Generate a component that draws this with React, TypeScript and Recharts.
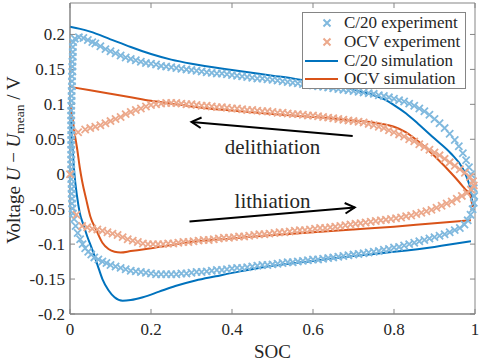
import {
  ComposedChart,
  Line,
  ReferenceArea,
  ReferenceDot,
  ReferenceLine,
  Scatter,
  XAxis,
  YAxis,
} from "recharts";

type Pt = [number, number];

const xTicks = [0, 0.2, 0.4, 0.6, 0.8, 1];
const yTicks = [-0.2, -0.15, -0.1, -0.05, 0, 0.05, 0.1, 0.15, 0.2];
const yTop = 0.245;

// C/20 experiment (SOC, U - Umean)
const c20ExpLeft: Pt[] = [
  [0.008, 0.189], [0.007, 0.182], [0.007, 0.175], [0.007, 0.168], [0.006, 0.161], [0.006, 0.154],
  [0.006, 0.147], [0.005, 0.14], [0.005, 0.133], [0.005, 0.126], [0.004, 0.119], [0.004, 0.112],
  [0.004, 0.105], [0.003, 0.098], [0.003, 0.091], [0.003, 0.084], [0.003, 0.077], [0.003, 0.07],
  [0.003, 0.063], [0.003, 0.056], [0.003, 0.049], [0.003, 0.042], [0.003, 0.035], [0.003, 0.028],
  [0.003, 0.021], [0.003, 0.014], [0.003, 0.007], [0.003, 0.0], [0.003, -0.007], [0.004, -0.014],
  [0.004, -0.021], [0.004, -0.028], [0.005, -0.035], [0.005, -0.042], [0.006, -0.049], [0.007, -0.056],
];
const c20ExpLower: Pt[] = [
  [0.01, -0.064], [0.014, -0.074], [0.019, -0.084], [0.025, -0.093], [0.031, -0.1], [0.0375, -0.106],
  [0.045, -0.111], [0.0525, -0.115], [0.06, -0.119], [0.07, -0.122], [0.08, -0.125], [0.09, -0.127],
  [0.1, -0.13], [0.1125, -0.132], [0.125, -0.134], [0.1375, -0.136], [0.15, -0.138], [0.1625, -0.139],
  [0.175, -0.14], [0.1875, -0.141], [0.2, -0.142], [0.2125, -0.143], [0.225, -0.143], [0.2375, -0.143],
  [0.25, -0.143], [0.2625, -0.143], [0.275, -0.142], [0.2875, -0.142], [0.3, -0.141], [0.3125, -0.14],
  [0.325, -0.14], [0.3375, -0.139], [0.35, -0.138], [0.3625, -0.137], [0.375, -0.137], [0.3875, -0.136],
  [0.4, -0.135], [0.4125, -0.134], [0.425, -0.134], [0.4375, -0.133], [0.45, -0.132], [0.4625, -0.131],
  [0.475, -0.13], [0.4875, -0.13], [0.5, -0.129], [0.5125, -0.128], [0.525, -0.127], [0.5375, -0.126],
  [0.55, -0.126], [0.5625, -0.125], [0.575, -0.124], [0.5875, -0.123], [0.6, -0.122], [0.6125, -0.122],
  [0.625, -0.121], [0.6375, -0.12], [0.65, -0.119], [0.6625, -0.118], [0.675, -0.117], [0.6875, -0.116],
  [0.7, -0.115], [0.7125, -0.114], [0.725, -0.113], [0.7375, -0.112], [0.75, -0.111], [0.7625, -0.11],
  [0.775, -0.108], [0.7875, -0.107], [0.8, -0.105], [0.8125, -0.104], [0.825, -0.102], [0.8375, -0.1],
  [0.85, -0.098], [0.8625, -0.096], [0.875, -0.094], [0.8875, -0.092], [0.9, -0.09], [0.9125, -0.088],
  [0.925, -0.086], [0.9375, -0.083], [0.95, -0.08], [0.9625, -0.077], [0.974, -0.072], [0.982, -0.066],
  [0.989, -0.058], [0.994, -0.05], [0.997, -0.041],
];
const c20ExpUpper: Pt[] = [
  [0.012, 0.194], [0.022, 0.196], [0.033, 0.195], [0.044, 0.192], [0.055, 0.189], [0.0625, 0.187],
  [0.075, 0.183], [0.0875, 0.179], [0.1, 0.176], [0.1125, 0.173], [0.125, 0.17], [0.1375, 0.167],
  [0.15, 0.165], [0.1625, 0.163], [0.175, 0.161], [0.1875, 0.159], [0.2, 0.158], [0.2125, 0.157],
  [0.225, 0.155], [0.2375, 0.154], [0.25, 0.153], [0.2625, 0.152], [0.275, 0.151], [0.2875, 0.15],
  [0.3, 0.149], [0.3125, 0.148], [0.325, 0.147], [0.3375, 0.146], [0.35, 0.145], [0.3625, 0.144],
  [0.375, 0.144], [0.3875, 0.143], [0.4, 0.142], [0.4125, 0.141], [0.425, 0.14], [0.4375, 0.139],
  [0.45, 0.138], [0.4625, 0.137], [0.475, 0.137], [0.4875, 0.136], [0.5, 0.135], [0.5125, 0.134],
  [0.525, 0.133], [0.5375, 0.132], [0.55, 0.131], [0.5625, 0.13], [0.575, 0.129], [0.5875, 0.128],
  [0.6, 0.127], [0.6125, 0.126], [0.625, 0.125], [0.6375, 0.124], [0.65, 0.123], [0.6625, 0.122],
  [0.675, 0.121], [0.6875, 0.12], [0.7, 0.119], [0.7125, 0.118], [0.725, 0.117], [0.7375, 0.116],
  [0.75, 0.115], [0.7625, 0.113], [0.775, 0.112], [0.7875, 0.11], [0.8, 0.108], [0.8125, 0.106],
  [0.825, 0.104], [0.8375, 0.101], [0.85, 0.098], [0.8625, 0.094], [0.875, 0.09], [0.8875, 0.085],
  [0.9, 0.079], [0.9125, 0.073], [0.925, 0.066], [0.9375, 0.058], [0.95, 0.049], [0.96, 0.04],
  [0.97, 0.03], [0.978, 0.02], [0.985, 0.01], [0.99, 0.0], [0.994, -0.01], [0.997, -0.02],
  [0.998, -0.031],
];

// OCV experiment
const ocvExpLeft: Pt[] = [[0.0, 0.0], [0.02, 0.06], [0.016, -0.058]];
const ocvExpUpper: Pt[] = [
  [0.0375, 0.064], [0.05, 0.066], [0.0625, 0.068], [0.075, 0.07], [0.0875, 0.073], [0.1, 0.076],
  [0.1125, 0.079], [0.125, 0.082], [0.1375, 0.086], [0.15, 0.089], [0.1625, 0.092], [0.175, 0.094],
  [0.1875, 0.097], [0.2, 0.099], [0.2125, 0.1], [0.225, 0.101], [0.2375, 0.102], [0.25, 0.102],
  [0.2625, 0.102], [0.275, 0.101], [0.2875, 0.1], [0.3, 0.1], [0.3125, 0.099], [0.325, 0.098],
  [0.3375, 0.098], [0.35, 0.097], [0.3625, 0.096], [0.375, 0.096], [0.3875, 0.095], [0.4, 0.094],
  [0.4125, 0.094], [0.425, 0.093], [0.4375, 0.092], [0.45, 0.092], [0.4625, 0.091], [0.475, 0.09],
  [0.4875, 0.09], [0.5, 0.089], [0.5125, 0.088], [0.525, 0.088], [0.5375, 0.087], [0.55, 0.086],
  [0.5625, 0.086], [0.575, 0.085], [0.5875, 0.084], [0.6, 0.084], [0.6125, 0.083], [0.625, 0.082],
  [0.6375, 0.081], [0.65, 0.08], [0.6625, 0.079], [0.675, 0.078], [0.6875, 0.077], [0.7, 0.076],
  [0.7125, 0.075], [0.725, 0.074], [0.7375, 0.072], [0.75, 0.07], [0.7625, 0.068], [0.775, 0.066],
  [0.7875, 0.063], [0.8, 0.06], [0.8125, 0.057], [0.825, 0.054], [0.8375, 0.05], [0.85, 0.047],
  [0.8625, 0.043], [0.875, 0.039], [0.8875, 0.035], [0.9, 0.031], [0.9125, 0.027], [0.925, 0.022],
  [0.9375, 0.017], [0.95, 0.012], [0.9625, 0.007], [0.975, 0.002], [0.9875, -0.004], [0.995, -0.01],
];
const ocvExpLower: Pt[] = [
  [0.03, -0.074], [0.0425, -0.076], [0.055, -0.078], [0.0675, -0.079], [0.08, -0.081], [0.0925, -0.083],
  [0.105, -0.085], [0.1175, -0.087], [0.13, -0.09], [0.1425, -0.093], [0.155, -0.095], [0.1675, -0.097],
  [0.18, -0.099], [0.1925, -0.1], [0.205, -0.1], [0.2175, -0.1], [0.23, -0.1], [0.2425, -0.099],
  [0.255, -0.099], [0.2675, -0.098], [0.28, -0.097], [0.2925, -0.097], [0.305, -0.096], [0.3175, -0.095],
  [0.33, -0.094], [0.3425, -0.094], [0.355, -0.093], [0.3675, -0.092], [0.38, -0.091], [0.3925, -0.091],
  [0.405, -0.09], [0.4175, -0.089], [0.43, -0.089], [0.4425, -0.088], [0.455, -0.087], [0.4675, -0.086],
  [0.48, -0.086], [0.4925, -0.085], [0.505, -0.084], [0.5175, -0.083], [0.53, -0.083], [0.5425, -0.082],
  [0.555, -0.081], [0.5675, -0.08], [0.58, -0.08], [0.5925, -0.079], [0.605, -0.078], [0.6175, -0.077],
  [0.63, -0.077], [0.6425, -0.076], [0.655, -0.075], [0.6675, -0.074], [0.68, -0.073], [0.6925, -0.072],
  [0.705, -0.071], [0.7175, -0.07], [0.73, -0.069], [0.7425, -0.068], [0.755, -0.067], [0.7675, -0.066],
  [0.78, -0.065], [0.7925, -0.064], [0.805, -0.063], [0.8175, -0.062], [0.83, -0.06], [0.8425, -0.059],
  [0.855, -0.057], [0.8675, -0.055], [0.88, -0.053], [0.8925, -0.051], [0.905, -0.048], [0.9175, -0.045],
  [0.93, -0.042], [0.9425, -0.039], [0.955, -0.035], [0.9675, -0.031], [0.98, -0.027], [0.99, -0.022],
  [0.997, -0.016],
];

// simulations
const c20SimUpper: Pt[] = [
  [0, 0.211], [0.025, 0.208], [0.05, 0.204], [0.1, 0.193], [0.15, 0.182], [0.2, 0.172], [0.25, 0.164],
  [0.3, 0.158], [0.4, 0.149], [0.5, 0.141], [0.55, 0.137], [0.6, 0.132], [0.65, 0.127], [0.7, 0.121],
  [0.75, 0.113], [0.78, 0.106], [0.8, 0.099], [0.83, 0.087], [0.86, 0.072], [0.9, 0.051], [0.94, 0.03],
  [0.97, 0.008], [0.98, -0.005], [0.99, -0.025], [0.995, -0.046],
];
const c20SimLower: Pt[] = [
  [0.002, 0.08], [0.006, 0.04], [0.011, 0.0], [0.017, -0.03], [0.024, -0.055], [0.033, -0.072],
  [0.042, -0.088], [0.055, -0.108], [0.068, -0.13], [0.08, -0.15], [0.095, -0.166], [0.11, -0.176],
  [0.13, -0.181], [0.15, -0.18], [0.18, -0.176], [0.22, -0.168], [0.26, -0.16], [0.31, -0.152],
  [0.36, -0.146], [0.42, -0.139], [0.5, -0.131], [0.6, -0.124], [0.7, -0.117], [0.8, -0.111],
  [0.9, -0.104], [0.99, -0.096],
];
const ocvSimUpper: Pt[] = [
  [0, 0.125], [0.05, 0.12], [0.1, 0.115], [0.15, 0.11], [0.2, 0.105], [0.25, 0.101], [0.3, 0.097],
  [0.4, 0.091], [0.5, 0.086], [0.6, 0.082], [0.7, 0.077], [0.76, 0.073], [0.8, 0.068], [0.83, 0.06],
  [0.86, 0.047], [0.9, 0.026], [0.95, -0.004], [0.975, -0.021], [0.988, -0.03], [0.994, -0.047],
];
const ocvSimLower: Pt[] = [
  [0, 0.1], [0.005, 0.085], [0.011, 0.06], [0.018, 0.035], [0.024, 0.01], [0.03, -0.01], [0.04, -0.036],
  [0.05, -0.06], [0.065, -0.08], [0.08, -0.098], [0.095, -0.107], [0.11, -0.111], [0.125, -0.112],
  [0.15, -0.11], [0.2, -0.106], [0.3, -0.097], [0.4, -0.092], [0.5, -0.087], [0.6, -0.083],
  [0.7, -0.079], [0.8, -0.075], [0.9, -0.07], [0.99, -0.066],
];

const delithArrow: Pt[] = [[0.698, 0.0547], [0.3, 0.0748]];
const lithArrow: Pt[] = [[0.295, -0.0676], [0.703, -0.0475]];
const annotations = [
  { text: "delithiation", soc: 0.5, v: 0.0403 },
  { text: "lithiation", soc: 0.5, v: -0.0374 },
];

const rows = (pts: Pt[]) => pts.map(([soc, v]) => ({ soc, v }));

const BLUE = "#0072BD";
const ORANGE = "#D95319";
const LBLUE = "#80B9DE";
const LORANGE = "#ECA98C";
const AXIS = "#858585";
const TEXT = "#262626";
const FONT = "'Liberation Serif', serif";

const crossShape = (color: string) => (props: any) => {
  const { cx, cy } = props;
  const s = 3.6;
  return (
    <path
      d={`M${cx - s},${cy - s}L${cx + s},${cy + s}M${cx - s},${cy + s}L${cx + s},${cy - s}`}
      stroke={color}
      strokeWidth={1.8}
      fill="none"
    />
  );
};

function ArrowShape(props: any) {
  const { x1, y1, x2, y2 } = props;
  const ang = Math.atan2(y2 - y1, x2 - x1);
  const len = 11;
  const spread = 0.5;
  const ax = x2 - len * Math.cos(ang - spread);
  const ay = y2 - len * Math.sin(ang - spread);
  const bx = x2 - len * Math.cos(ang + spread);
  const by = y2 - len * Math.sin(ang + spread);
  return (
    <g>
      <line x1={x1} y1={y1} x2={x2} y2={y2} stroke="#000" strokeWidth={2} />
      <path d={`M${ax},${ay}L${x2},${y2}L${bx},${by}`} stroke="#000" strokeWidth={2} fill="none" strokeLinejoin="miter" />
    </g>
  );
}

function Legend() {
  const items = [
    { label: "C/20 experiment", kind: "x", color: LBLUE },
    { label: "OCV experiment", kind: "x", color: LORANGE },
    { label: "C/20 simulation", kind: "l", color: BLUE },
    { label: "OCV simulation", kind: "l", color: ORANGE },
  ];
  return (
    <div
      style={{
        position: "absolute",
        left: 302,
        top: 12,
        width: 164,
        height: 77,
        background: "#fff",
        border: `1px solid ${AXIS}`,
        boxSizing: "border-box",
        fontFamily: FONT,
        fontSize: 17,
        color: TEXT,
        paddingTop: 1,
      }}
    >
      {items.map((it) => (
        <div key={it.label} style={{ display: "flex", alignItems: "center", height: 18.7 }}>
          <svg width={38} height={14} style={{ flex: "none" }}>
            {it.kind === "x" ? (
              <path d="M20.5,3.5L27.5,10.5M20.5,10.5L27.5,3.5" stroke={it.color} strokeWidth={2} />
            ) : (
              <line x1={2} y1={7} x2={35} y2={7} stroke={it.color} strokeWidth={2} />
            )}
          </svg>
          <span style={{ marginLeft: 3, whiteSpace: "nowrap" }}>{it.label}</span>
        </div>
      ))}
    </div>
  );
}

const tickLen = { x: 0.0124, y: 0.0072 };

export default function App() {
  return (
    <div style={{ position: "absolute", left: 0, top: 0, width: 480, height: 361, background: "#fff", fontFamily: FONT }}>
      <style>{`svg text, svg tspan { font-family: 'Liberation Serif', serif !important; }`}</style>
      <ComposedChart width={480} height={361} margin={{ top: 3, right: 5, bottom: 0, left: 0 }}>
        <XAxis
          type="number"
          dataKey="soc"
          domain={[0, 1]}
          ticks={xTicks}
          tickFormatter={(v: number) => String(v)}
          tick={{ fill: TEXT, fontSize: 17 }}
          tickLine={false}
          tickSize={0}
          tickMargin={9}
          axisLine={{ stroke: AXIS }}
          height={47}
          label={{
            content: () => (
              <text x={272.5} y={358} textAnchor="middle" fontSize={19} fill={TEXT}>
                SOC
              </text>
            ),
          }}
        />
        <YAxis
          type="number"
          dataKey="v"
          domain={[-0.2, yTop]}
          ticks={yTicks}
          tickFormatter={(v: number) => String(v)}
          tick={{ fill: TEXT, fontSize: 17 }}
          tickLine={false}
          tickSize={0}
          tickMargin={5}
          axisLine={{ stroke: AXIS }}
          width={70}
          label={{
            content: () => (
              <text
                x={20}
                y={160}
                transform="rotate(-90, 20, 160)"
                textAnchor="middle"
                fontSize={19}
                fill={TEXT}
              >
                Voltage <tspan fontStyle="italic">U</tspan> − <tspan fontStyle="italic">U</tspan>
                <tspan fontSize={13.5} dy={4}>mean</tspan>
                <tspan dy={-4}> / V</tspan>
              </text>
            ),
          }}
        />
        <ReferenceArea x1={0} x2={1} y1={-0.2} y2={yTop} fill="none" stroke={AXIS} strokeWidth={1} fillOpacity={0} />
        {xTicks.map((t) => (
          <ReferenceLine
            key={`xb${t}`}
            segment={[{ x: t, y: -0.2 }, { x: t, y: -0.2 + tickLen.y }]}
            stroke={AXIS}
          />
        ))}
        {xTicks.map((t) => (
          <ReferenceLine
            key={`xt${t}`}
            segment={[{ x: t, y: yTop }, { x: t, y: yTop - tickLen.y }]}
            stroke={AXIS}
          />
        ))}
        {yTicks.map((t) => (
          <ReferenceLine key={`yl${t}`} segment={[{ x: 0, y: t }, { x: tickLen.x, y: t }]} stroke={AXIS} />
        ))}
        {yTicks.map((t) => (
          <ReferenceLine key={`yr${t}`} segment={[{ x: 1, y: t }, { x: 1 - tickLen.x, y: t }]} stroke={AXIS} />
        ))}

        <Scatter data={rows([...c20ExpLeft, ...c20ExpLower, ...c20ExpUpper])} dataKey="v" shape={crossShape(LBLUE)} isAnimationActive={false} />
        <Scatter data={rows([...ocvExpLeft, ...ocvExpUpper, ...ocvExpLower])} dataKey="v" shape={crossShape(LORANGE)} isAnimationActive={false} />

        <Line data={rows(c20SimUpper)} dataKey="v" type="monotone" stroke={BLUE} strokeWidth={2} dot={false} isAnimationActive={false} />
        <Line data={rows(c20SimLower)} dataKey="v" type="monotone" stroke={BLUE} strokeWidth={2} dot={false} isAnimationActive={false} />
        <Line data={rows(ocvSimUpper)} dataKey="v" type="monotone" stroke={ORANGE} strokeWidth={2} dot={false} isAnimationActive={false} />
        <Line data={rows(ocvSimLower)} dataKey="v" type="monotone" stroke={ORANGE} strokeWidth={2} dot={false} isAnimationActive={false} />

        {[delithArrow, lithArrow].map((a, i) => (
          <ReferenceLine
            key={`arrow${i}`}
            segment={[{ x: a[0][0], y: a[0][1] }, { x: a[1][0], y: a[1][1] }]}
            shape={ArrowShape}
          />
        ))}
        {annotations.map((a) => (
          <ReferenceDot
            key={a.text}
            x={a.soc}
            y={a.v}
            r={0}
            fill="none"
            stroke="none"
            label={{ value: a.text, position: "center", fill: TEXT, fontSize: 21 }}
          />
        ))}
      </ComposedChart>
      <Legend />
    </div>
  );
}
